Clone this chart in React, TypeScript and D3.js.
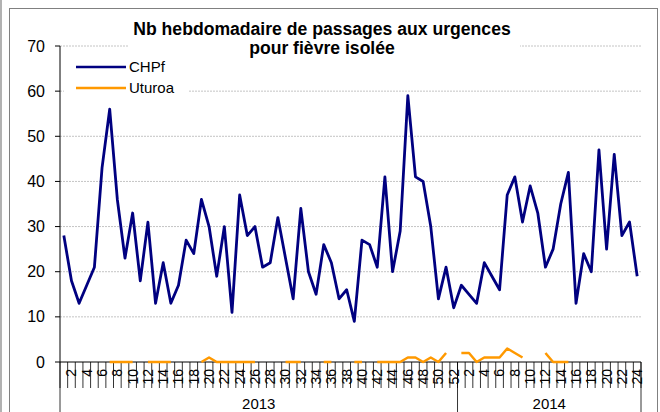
import React from 'react'
import * as d3 from 'd3'

// weekly counts, 2013 weeks 1-52 then 2014 weeks 1-24
const years = ['2013', '2014']
const weeks2013 = d3.range(1, 53)
const weeks2014 = d3.range(1, 25)

const chpf2013 = [28, 18, 13, 17, 21, 43, 56, 36, 23, 33, 18, 31, 13, 22, 13, 17, 27, 24, 36, 30, 19, 30, 11, 37, 28, 30,
  21, 22, 32, 23, 14, 34, 20, 15, 26, 22, 14, 16, 9, 27, 26, 21, 41, 20, 29, 59, 41, 40, 30, 14, 21, 12]
const chpf2014 = [17, 15, 13, 22, 19, 16, 37, 41, 31, 39, 33, 21, 25, 35, 42, 13, 24, 20, 47, 25, 46, 28, 31, 19]

const uturoa2013 = [null, null, null, null, null, null, 0, 0, 0, 0, null, 0, 0, 0, 0, null, null, null, 0, 1, 0, 0, 0, 0, 0, 0,
  null, null, null, 0, 0, 0, null, null, 0, 0, null, null, 0, 0, null, 0, 0, 0, 0, 1, 1, 0, 1, 0, 2, null]
const uturoa2014 = [2, 2, 0, 1, 1, 1, 3, 2, 1, null, null, 2, 0, 0, 0, null, null, null, null, null, null, null, null, null]

const yTicks = [0, 10, 20, 30, 40, 50, 60, 70]

const title = ['Nb hebdomadaire de passages aux urgences', 'pour fièvre isolée']
const seriesNames = ['CHPf', 'Uturoa']
const colors = ['#000080', '#FF9900']

type Pt = { i: number; v: number | null }

const App: React.FC = () => {
  const width = 660
  const height = 412
  const left = 60
  const right = 641
  const top = 46
  const bottom = 362

  const weekLabels = [...weeks2013, ...weeks2014]
  const idx = weekLabels.map((_, i) => i)
  const x = d3.scaleBand<number>().domain(idx).range([left, right])
  const y = d3.scaleLinear().domain([0, 70]).range([bottom, top])
  const cx = (i: number) => (x(i) as number) + x.bandwidth() / 2

  const chpf = [...chpf2013, ...chpf2014].map((v, i) => ({ i, v }))
  const uturoa = [...uturoa2013, ...uturoa2014].map((v, i) => ({ i, v }))

  const line = d3.line<Pt>()
    .defined(d => d.v !== null)
    .x(d => cx(d.i))
    .y(d => y(d.v as number))

  const font = 'Arial, "Liberation Sans", sans-serif'
  const yearEdges = [0, weeks2013.length, weekLabels.length]
  const edgeX = (k: number) => left + k * x.bandwidth()

  return (
    <div style={{ position: 'fixed', left: 0, top: 0 }}>
      <svg width={width} height={height} style={{ display: 'block', background: '#fff' }} fontFamily={font}>
        <rect x={0} y={0} width={width} height={height} fill="#fff" />
        <line x1={1} x2={1} y1={0} y2={height} stroke="#999" strokeWidth={1.5} />
        <rect x={9.5} y={8.5} width={648} height={430} fill="none" stroke="#808080" />

        {/* grid */}
        {yTicks.filter(t => t > 0).map(t => (
          <line key={t} x1={left} x2={right} y1={y(t)} y2={y(t)} stroke="#c4c4c4" strokeDasharray="2,1" />
        ))}

        {/* title box */}
        <rect x={128} y={14} width={392} height={44} fill="#fff" />
        {title.map((t, k) => (
          <text key={k} x={322} y={35 + k * 19} textAnchor="middle" fontSize={17.6} fontWeight="bold" fill="#000">{t}</text>
        ))}

        {/* legend */}
        <rect x={64} y={54} width={124} height={46} fill="#fff" />
        {seriesNames.map((n, k) => (
          <g key={n} transform={`translate(76,${67 + k * 21})`}>
            <line x1={0} x2={50} y1={0} y2={0} stroke={colors[k]} strokeWidth={2.5} />
            <text x={53} y={0} dy="0.35em" fontSize={15} fill="#000">{n}</text>
          </g>
        ))}

        {/* y axis */}
        <line x1={left} x2={left} y1={top} y2={bottom} stroke="#000" />
        {yTicks.map(t => (
          <g key={t}>
            <line x1={left - 5} x2={left} y1={y(t)} y2={y(t)} stroke="#000" />
            <text x={45} y={y(t)} dy="0.35em" textAnchor="end" fontSize={16} fill="#000">{t}</text>
          </g>
        ))}

        {/* x axis */}
        <line x1={left} x2={right} y1={bottom} y2={bottom} stroke="#000" />
        {d3.range(weekLabels.length + 1).map(k => (
          <line key={k} x1={edgeX(k)} x2={edgeX(k)} y1={bottom} y2={388} stroke="#000" strokeWidth={0.8} />
        ))}
        {weekLabels.map((w, i) => w % 2 === 0 ? (
          <text key={i} transform={`translate(${cx(i)},369) rotate(-90)`} dy="0.35em" textAnchor="end"
            fontSize={14} fill="#000">{w}</text>
        ) : null)}
        {yearEdges.map(k => (
          <line key={k} x1={edgeX(k)} x2={edgeX(k)} y1={bottom} y2={height} stroke="#000" strokeWidth={0.8} />
        ))}
        {years.map((yr, k) => (
          <text key={yr} x={(edgeX(yearEdges[k]) + edgeX(yearEdges[k + 1])) / 2} y={409} textAnchor="middle"
            fontSize={15} fill="#000">{yr}</text>
        ))}

        {/* series */}
        <path d={line(uturoa) ?? ''} fill="none" stroke={colors[1]} strokeWidth={2.5} strokeLinejoin="round" />
        <path d={line(chpf) ?? ''} fill="none" stroke={colors[0]} strokeWidth={2.8} strokeLinejoin="round" />
      </svg>
    </div>
  )
}

export default App
